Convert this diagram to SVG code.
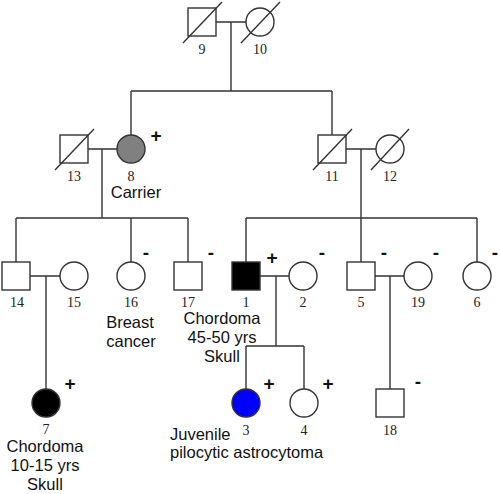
<svg xmlns="http://www.w3.org/2000/svg" width="500" height="494" viewBox="0 0 500 494">
<style>
.s{fill:#fff;stroke:#333;stroke-width:1.4}
.l{fill:none;stroke:#333;stroke-width:1.4}
.n{font-family:"Liberation Serif","Times New Roman",serif;font-size:14px;fill:#222;text-anchor:middle}
.t{font-family:"Liberation Sans",Arial,sans-serif;font-size:16.5px;fill:#111;text-anchor:middle}
.m{font-family:"Liberation Sans",Arial,sans-serif;font-size:19px;fill:#111;text-anchor:middle;font-weight:bold}
</style>
<rect width="500" height="494" fill="#fff"/>
<g id="connectors" class="l">
<path d="M216 22H246M231 22V91M131 91H332M131 91V135M332 91V135"/>
<path d="M87 149H117M102 149V218M16 218H188M16 218V262M131 218V262M188 218V262"/>
<path d="M346 149H376M361 149V218M246 218H477M246 218V262M361 218V262M477 218V262"/>
<path d="M30 276H60M46 276V389"/>
<path d="M260 276H289M276 276V346M246 346H304M246 346V389M304 346V389"/>
<path d="M375 276H404M390 276V389"/>
</g>
<g id="n9"><rect class="s" x="188" y="8" width="28" height="28"/><line class="l" x1="183" y1="43" x2="222" y2="2"/><text class="n" x="202" y="54">9</text></g>
<g id="n10"><circle class="s" cx="260" cy="22" r="14"/><line class="l" x1="241" y1="43" x2="280" y2="2"/><text class="n" x="260" y="54">10</text></g>
<g id="n13"><rect class="s" x="60" y="135" width="28" height="28"/><line class="l" x1="55" y1="170" x2="94" y2="129"/><text class="n" x="74" y="181">13</text></g>
<g id="n8"><circle class="s" cx="131" cy="149" r="14" fill="#808080" style="fill:#808080"/><text class="m" x="156" y="142">+</text><text class="n" x="131" y="181">8</text><text class="t" x="136" y="198">Carrier</text></g>
<g id="n11"><rect class="s" x="318" y="135" width="28" height="28"/><line class="l" x1="313" y1="170" x2="352" y2="129"/><text class="n" x="332" y="181">11</text></g>
<g id="n12"><circle class="s" cx="390" cy="149" r="14"/><line class="l" x1="371" y1="170" x2="409" y2="129"/><text class="n" x="390" y="181">12</text></g>
<g id="n14"><rect class="s" x="2" y="262" width="28" height="28"/><text class="n" x="17" y="307">14</text></g>
<g id="n15"><circle class="s" cx="74" cy="276" r="14"/><text class="n" x="74" y="307">15</text></g>
<g id="n16"><circle class="s" cx="131" cy="276" r="14"/><text class="m" x="146" y="259">-</text><text class="n" x="131" y="307">16</text><text class="t" x="130" y="328">Breast</text><text class="t" x="131" y="347">cancer</text></g>
<g id="n17"><rect class="s" x="174" y="262" width="28" height="28"/><text class="m" x="211" y="259">-</text><text class="n" x="188" y="307">17</text></g>
<g id="n1"><rect class="s" x="232" y="262" width="28" height="28" style="fill:#000"/><text class="m" x="272" y="264">+</text><text class="n" x="246" y="307">1</text><text class="t" x="222" y="324">Chordoma</text><text class="t" x="222" y="343">45-50 yrs</text><text class="t" x="222" y="362">Skull</text></g>
<g id="n2"><circle class="s" cx="303" cy="276" r="14"/><text class="m" x="322" y="259">-</text><text class="n" x="303" y="307">2</text></g>
<g id="n5"><rect class="s" x="347" y="262" width="28" height="28"/><text class="m" x="384" y="259">-</text><text class="n" x="361" y="307">5</text></g>
<g id="n19"><circle class="s" cx="418" cy="276" r="14"/><text class="m" x="436" y="259">-</text><text class="n" x="418" y="307">19</text></g>
<g id="n6"><circle class="s" cx="477" cy="276" r="14"/><text class="m" x="495" y="259">-</text><text class="n" x="477" y="307">6</text></g>
<g id="n7"><circle class="s" cx="46" cy="403" r="14" style="fill:#000"/><text class="m" x="70" y="390">+</text><text class="n" x="46" y="434">7</text><text class="t" x="45" y="452">Chordoma</text><text class="t" x="45" y="471">10-15 yrs</text><text class="t" x="45" y="490">Skull</text></g>
<g id="n3"><circle class="s" cx="246" cy="403" r="14" style="fill:#0000ff"/><text class="m" x="269" y="390">+</text><text class="n" x="246" y="435">3</text><text class="t" x="170" y="440" style="text-anchor:start">Juvenile</text><text class="t" x="170" y="458" style="text-anchor:start">pilocytic astrocytoma</text></g>
<g id="n4"><circle class="s" cx="304" cy="403" r="14"/><text class="m" x="328" y="390">+</text><text class="n" x="304" y="435">4</text></g>
<g id="n18"><rect class="s" x="376" y="389" width="28" height="28"/><text class="m" x="418" y="388">-</text><text class="n" x="390" y="435">18</text></g>
</svg>
